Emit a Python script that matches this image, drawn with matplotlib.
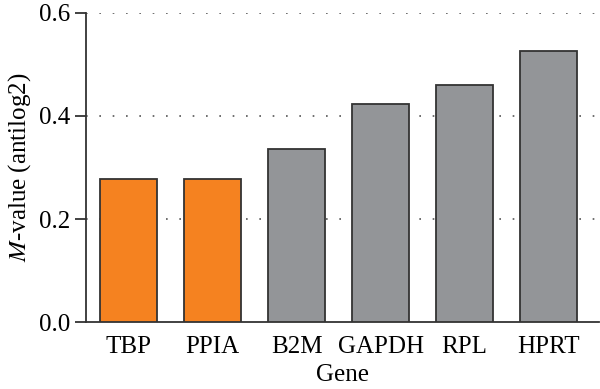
import matplotlib
matplotlib.use("Agg")
import matplotlib.pyplot as plt
import numpy as np

genes = ["TBP", "PPIA", "B2M", "GAPDH", "RPL", "HPRT"]
m_values = [0.278, 0.278, 0.336, 0.423, 0.460, 0.525]
highlight = [True, True, False, False, False, False]
yticks = [0.0, 0.2, 0.4, 0.6]

plt.rcParams["font.family"] = ["Liberation Serif", "DejaVu Serif"]
plt.rcParams["mathtext.fontset"] = "stix"

fig = plt.figure(figsize=(6, 3.89), dpi=100)
ax = fig.add_axes([0.1433, 0.172, 0.855, 0.795])

xs = np.arange(len(genes))
colors = ["#F58220" if h else "#939598" for h in highlight]
ax.bar(xs, m_values, width=0.68, color=colors, edgecolor="#333333",
       linewidth=1.3, zorder=3)

ax.set_ylim(0, 0.6)
ax.set_xlim(-0.51, 5.6)
ax.set_yticks(yticks)
ax.set_yticklabels([f"{t:.1f}" for t in yticks], fontsize=18)
ax.set_xticks(xs)
ax.set_xticklabels(genes, fontsize=18)
ax.tick_params(axis="x", length=0, pad=10)
ax.tick_params(axis="y", length=8, width=1.3, color="#333333", pad=3)

for t in yticks[1:]:
    ax.axhline(t, color="#555555", linestyle=(0, (1, 7)), linewidth=1.2, zorder=1)

for s in ["top", "right"]:
    ax.spines[s].set_visible(False)
for s in ["left", "bottom"]:
    ax.spines[s].set_linewidth(1.3)
    ax.spines[s].set_color("#333333")

ax.set_ylabel(r"$\it{M}$-value (antilog2)", fontsize=18, labelpad=5)
ax.set_xlabel("Gene", fontsize=18, labelpad=4)

fig.savefig("out.png", dpi=100)
